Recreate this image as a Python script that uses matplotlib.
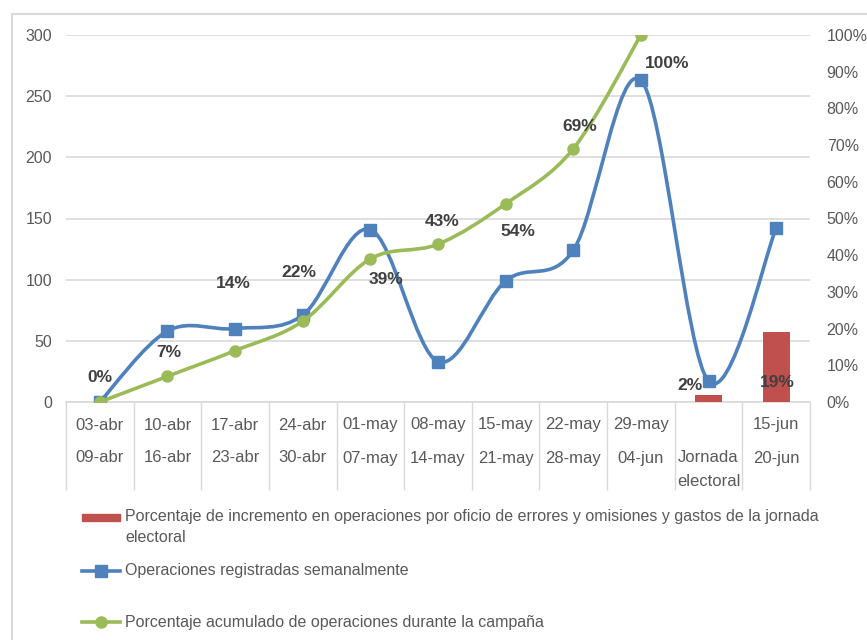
import matplotlib
matplotlib.use("Agg")
import matplotlib.pyplot as plt
import numpy as np
from matplotlib.path import Path
from matplotlib.patches import PathPatch, Rectangle
from matplotlib.lines import Line2D
from matplotlib.ticker import PercentFormatter, MultipleLocator

plt.rcParams['font.family'] = ['Liberation Sans', 'DejaVu Sans']

# -------------------------
# DATA
# -------------------------
week_start = ["03-abr", "10-abr", "17-abr", "24-abr", "01-may", "08-may",
              "15-may", "22-may", "29-may", "", "15-jun"]
week_end = ["09-abr", "16-abr", "23-abr", "30-abr", "07-may", "14-may",
            "21-may", "28-may", "04-jun", "Jornada\nelectoral", "20-jun"]

weekly_ops = [0, 58, 60, 71, 141, 33, 99, 124, 263, 17, 142]
cumulative_pct = [0.0, 0.07, 0.14, 0.22, 0.39, 0.43, 0.54, 0.69, 1.00]
increase_pct = [None] * 9 + [0.02, 0.19]

bar_name = ("Porcentaje de incremento en operaciones por oficio de errores y "
            "omisiones y gastos de la jornada\nelectoral")
blue_name = "Operaciones registradas semanalmente"
green_name = "Porcentaje acumulado de operaciones durante la campaña"

# label offsets (pixels) for the data labels, as placed in the original
green_offsets = [(0, 24), (1, 24), (-2, 67), (-4, 49), (16, -21),
                 (4, 23), (12, -28), (6, 22), (26, -28)]
bar_offsets = {9: (-19, 9), 10: (1, -50)}

RED = "#C0504D"
BLUE = "#4F81BD"
GREEN = "#9BBB59"
GRID = "#D9D9D9"
TXT = "#595959"
LBL = "#404040"

W, H = 867, 640


def smooth_path(xs, ys):
    # Catmull-Rom style smoothing, like Excel "smoothed line"
    n = len(xs)
    verts = [(xs[0], ys[0])]
    codes = [Path.MOVETO]
    for i in range(n - 1):
        p0 = i - 1 if i > 0 else i
        p3 = i + 2 if i + 2 < n else i + 1
        c1 = (xs[i] + (xs[i + 1] - xs[p0]) / 6, ys[i] + (ys[i + 1] - ys[p0]) / 6)
        c2 = (xs[i + 1] - (xs[p3] - xs[i]) / 6, ys[i + 1] - (ys[p3] - ys[i]) / 6)
        verts += [c1, c2, (xs[i + 1], ys[i + 1])]
        codes += [Path.CURVE4] * 3
    return Path(verts, codes)


fig = plt.figure(figsize=(W / 100, H / 100), dpi=100)
ax = fig.add_axes([66 / W, 1 - 402 / H, (810 - 66) / W, (402 - 35) / H])
ax2 = ax.twinx()

n = len(week_end)
x = np.arange(n)

# left axis
ax.set_xlim(-0.5, n - 0.5)
ax.set_ylim(0, 300)
ax.yaxis.set_major_locator(MultipleLocator(50))
ax.grid(axis='y', color=GRID, lw=1.2)
ax.set_axisbelow(True)
for s in ['top', 'left', 'right']:
    ax.spines[s].set_visible(False)
ax.spines['bottom'].set_color(GRID)
ax.spines['bottom'].set_linewidth(1.2)
ax.tick_params(axis='y', length=0, pad=10, labelsize=11.5, labelcolor=TXT)
ax.set_xticks(np.arange(-0.5, n, 1))
ax.set_xticklabels([])
ax.tick_params(axis='x', length=63, width=1.0, color=GRID, direction='out')

# right axis
ax2.set_ylim(0, 1)
ax2.yaxis.set_major_locator(MultipleLocator(0.1))
ax2.yaxis.set_major_formatter(PercentFormatter(1.0, decimals=0))
for s in ax2.spines.values():
    s.set_visible(False)
ax2.tick_params(axis='y', length=0, pad=12, labelsize=11.5, labelcolor=TXT)

# category labels
for i in range(n):
    if week_start[i]:
        ax.annotate(week_start[i], xy=(i, 0), xycoords=('data', 'axes fraction'),
                    xytext=(0, -23), textcoords='offset pixels',
                    ha='center', va='center', fontsize=12, color=TXT)
    for k, part in enumerate(week_end[i].split("\n")):
        ax.annotate(part, xy=(i, 0), xycoords=('data', 'axes fraction'),
                    xytext=(0, -56 - 23 * k), textcoords='offset pixels',
                    ha='center', va='center', fontsize=12, color=TXT)

# bars (secondary axis)
bx = [i for i, v in enumerate(increase_pct) if v is not None]
bv = [increase_pct[i] for i in bx]
ax2.bar(bx, bv, width=0.4, align='center', color=RED, zorder=1)
ax2.set_xlim(-0.5, n - 0.5)

# blue smoothed line
ax.add_patch(PathPatch(smooth_path(x, weekly_ops), fill=False, edgecolor=BLUE,
                       lw=2.6, capstyle='round', zorder=3))
ax.plot(x, weekly_ops, ls='none', marker='s', ms=8, color=BLUE, zorder=4)

# green smoothed line
gx = np.arange(len(cumulative_pct))
ax2.add_patch(PathPatch(smooth_path(gx, cumulative_pct), fill=False,
                        edgecolor=GREEN, lw=2.6, capstyle='round', zorder=3))
ax2.plot(gx, cumulative_pct, ls='none', marker='o', ms=8, color=GREEN, zorder=4)

# data labels
for i, v in enumerate(cumulative_pct):
    ax2.annotate(f"{v:.0%}", xy=(i, v), xytext=green_offsets[i],
                 textcoords='offset pixels', ha='center', va='center',
                 fontsize=12.5, fontweight='bold', color=LBL, zorder=5)
for i, v in zip(bx, bv):
    ax2.annotate(f"{v:.0%}", xy=(i, v), xytext=bar_offsets[i],
                 textcoords='offset pixels', ha='center', va='center',
                 fontsize=12.5, fontweight='bold', color=LBL, zorder=5)


# legend, drawn by hand to keep the original spacing
def fx(px):
    return px / W


def fy(py):
    return 1 - py / H


fig.add_artist(Rectangle((fx(82), fy(521)), fx(120) - fx(82), fy(514) - fy(521),
                         transform=fig.transFigure, color=RED))
fig.text(fx(125), fy(517), bar_name.split("\n")[0], va='center', ha='left',
         fontsize=11.5, color=TXT)
fig.text(fx(125), fy(538), bar_name.split("\n")[1], va='center', ha='left',
         fontsize=11.5, color=TXT)
fig.add_artist(Line2D([fx(82), fx(120)], [fy(571), fy(571)], color=BLUE, lw=2.6,
                      transform=fig.transFigure))
fig.add_artist(Line2D([fx(101)], [fy(571)], color=BLUE, marker='s', ms=8,
                      transform=fig.transFigure))
fig.text(fx(125), fy(571), blue_name, va='center', ha='left', fontsize=11.5, color=TXT)
fig.add_artist(Line2D([fx(82), fx(120)], [fy(622), fy(622)], color=GREEN, lw=2.6,
                      transform=fig.transFigure))
fig.add_artist(Line2D([fx(101)], [fy(622)], color=GREEN, marker='o', ms=8,
                      transform=fig.transFigure))
fig.text(fx(125), fy(622), green_name, va='center', ha='left', fontsize=11.5, color=TXT)

# outer chart border
fig.add_artist(Rectangle((fx(12), -0.1), 1.2, fy(14) + 0.1, transform=fig.transFigure,
                         fill=False, edgecolor=GRID, lw=1.5))

fig.savefig("out.png", dpi=100)
